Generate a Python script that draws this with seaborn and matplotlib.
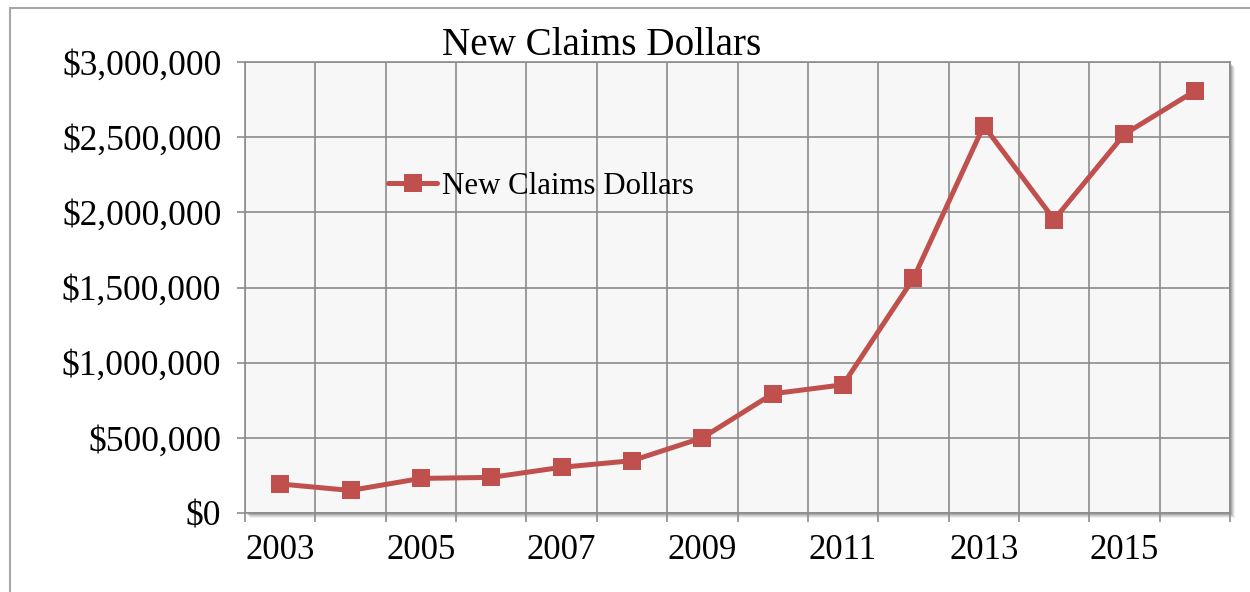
import numpy as np
import pandas as pd
import seaborn as sns
from matplotlib import pyplot as plt
from matplotlib.ticker import FuncFormatter, FixedLocator
from matplotlib.patches import Rectangle

# 年ごとの新規請求額
years = [2003, 2004, 2005, 2006, 2007, 2008, 2009,
         2010, 2011, 2012, 2013, 2014, 2015, 2016]
claims = [193000, 150000, 230000, 237000, 304000, 348000, 500000,
          793000, 853000, 1560000, 2576000, 1952000, 2520000, 2807000]
label_years = [2003, 2005, 2007, 2009, 2011, 2013, 2015]
series_name = "New Claims Dollars"

sns.set_theme(style="white")
plt.rcParams['font.family'] = ['Liberation Serif', 'DejaVu Serif']
plt.rcParams['text.color'] = 'black'

df = pd.DataFrame({"Year": years, "Dollars": claims})

fig = plt.figure(figsize=(12.5, 5.92), dpi=100)
ax = fig.add_axes([245 / 1250, 1 - 513 / 592, 985 / 1250, 451 / 592])
ax.set_facecolor("#F7F7F7")
ax.set_zorder(3)

# 外枠
fig.patches.append(Rectangle((10 / 1250, -0.05), 1.2, 1 - 8 / 592 + 0.05,
                             transform=fig.transFigure, fill=False,
                             edgecolor="#A6A6A6", linewidth=1.5, zorder=0))
# プロット領域の影
for off, a in [(5, 0.06), (4, 0.08), (3, 0.10), (2, 0.12)]:
    fig.patches.append(Rectangle(((245 + off) / 1250, (79 - off) / 592),
                                 985 / 1250, 451 / 592,
                                 transform=fig.transFigure, facecolor="black",
                                 edgecolor="none", alpha=a, zorder=1))

color = "#C0504D"
sns.lineplot(data=df, x="Year", y="Dollars", ax=ax, color=color,
             linewidth=3.6, marker="s", markersize=13.5, markeredgewidth=0,
             label=series_name, zorder=5)

grid_color = "#8C8C8C"
ax.set_xlim(years[0] - 0.5, years[-1] + 0.5)
ax.set_ylim(0, 3000000)
ax.xaxis.set_major_locator(FixedLocator(np.arange(years[0] - 0.5, years[-1] + 1, 1)))
ax.xaxis.set_minor_locator(FixedLocator(label_years))
ax.xaxis.set_major_formatter(FuncFormatter(lambda v, p: ""))
ax.xaxis.set_minor_formatter(FuncFormatter(lambda v, p: f"{int(round(v))}"))
ax.set_yticks(np.arange(0, 3000001, 500000))
ax.yaxis.set_major_formatter(FuncFormatter(lambda v, p: f"${v:,.0f}"))

ax.grid(True, which="major", color=grid_color, linewidth=1.2)
ax.tick_params(axis="x", which="major", bottom=True, length=6.5, width=1.2,
               color=grid_color)
ax.tick_params(axis="x", which="minor", bottom=True, length=0, pad=15,
               labelsize=25, labelcolor="black")
ax.tick_params(axis="y", which="major", left=True, length=6, width=1.2,
               color=grid_color, pad=11, labelsize=25.5, labelcolor="black")
for s in ax.spines.values():
    s.set_color(grid_color)
    s.set_linewidth(1.2)

ax.set_xlabel("")
ax.set_ylabel("")

fig.text(602 / 1250, 1 - 55 / 592, series_name, ha="center", va="baseline",
         fontsize=28.2, color="black")

ax.legend(loc="center left", bbox_to_anchor=(388 / 1250, 1 - 186 / 592),
          bbox_transform=fig.transFigure, frameon=False, fontsize=22.2,
          handlelength=1.6, handletextpad=0.15, borderpad=0, borderaxespad=0,
          labelcolor="black")

fig.savefig("out.png", dpi=100)
